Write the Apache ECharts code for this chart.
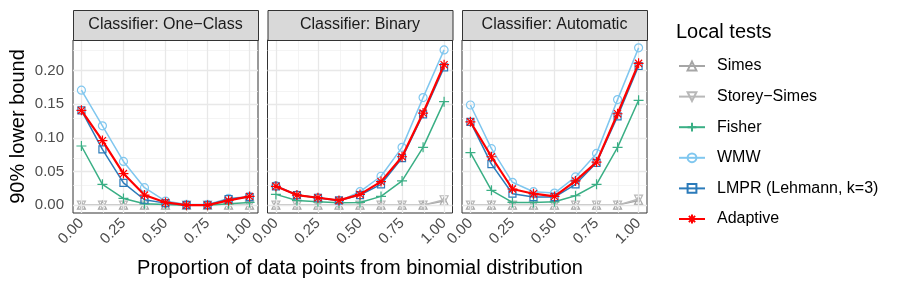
<!DOCTYPE html>
<html><head><meta charset="utf-8">
<script src="https://cdn.jsdelivr.net/npm/echarts@6/dist/echarts.min.js"></script>
<style>html,body{margin:0;padding:0;background:#fff}#c{width:897px;height:288px}</style>
</head><body><div id="c"></div>
<script>
// ---------------- data ----------------
const xValues = [0, 0.125, 0.25, 0.375, 0.5, 0.625, 0.75, 0.875, 1];
const panelTitles = ['Classifier: One\u2212Class', 'Classifier: Binary', 'Classifier: Automatic'];
const methodNames = ['Simes', 'Storey\u2212Simes', 'Fisher', 'WMW', 'LMPR (Lehmann, k=3)', 'Adaptive'];
const xTicks = [0, 0.25, 0.5, 0.75, 1];
const xMinorTicks = [0.125, 0.375, 0.625, 0.875];
const yTicks = [0, 0.05, 0.10, 0.15, 0.20];
const yMinorTicks = [0.025, 0.075, 0.125, 0.175, 0.225];

// One-Class
const simesOneClass    = [0, 0, 0, 0, 0, 0, 0, 0, 0];
const storeyOneClass   = [0, 0, 0, 0, 0, 0, 0, 0, 0];
const fisherOneClass   = [0.088, 0.031, 0.010, 0.002, 0.001, 0, 0, 0.002, 0.004];
const wmwOneClass      = [0.171, 0.118, 0.065, 0.026, 0.006, 0.001, 0.001, 0.010, 0.013];
const lmprOneClass     = [0.141, 0.083, 0.033, 0.008, 0.003, 0, 0, 0.009, 0.012];
const adaptiveOneClass = [0.141, 0.096, 0.047, 0.015, 0.004, 0, 0, 0.007, 0.013];
// Binary
const simesBinary    = [0, 0, 0, 0, 0, 0, 0, 0, 0.006];
const storeyBinary   = [0, 0, 0, 0, 0, 0, 0, 0, 0.008];
const fisherBinary   = [0.016, 0.007, 0.005, 0.0035, 0.004, 0.013, 0.036, 0.086, 0.154];
const wmwBinary      = [0.029, 0.015, 0.011, 0.006, 0.020, 0.043, 0.086, 0.160, 0.231];
const lmprBinary     = [0.028, 0.015, 0.011, 0.007, 0.015, 0.031, 0.070, 0.135, 0.205];
const adaptiveBinary = [0.028, 0.015, 0.011, 0.007, 0.016, 0.035, 0.072, 0.137, 0.209];
// Automatic
const simesAutomatic    = [0, 0, 0, 0, 0, 0, 0, 0, 0.007];
const storeyAutomatic   = [0, 0, 0, 0, 0, 0, 0, 0, 0.009];
const fisherAutomatic   = [0.078, 0.022, 0.004, 0.004, 0.005, 0.014, 0.031, 0.086, 0.156];
const wmwAutomatic      = [0.149, 0.084, 0.034, 0.020, 0.018, 0.042, 0.077, 0.157, 0.234];
const lmprAutomatic     = [0.124, 0.061, 0.017, 0.012, 0.012, 0.031, 0.063, 0.132, 0.207];
const adaptiveAutomatic = [0.124, 0.072, 0.024, 0.017, 0.013, 0.036, 0.064, 0.136, 0.211];

const panelData = [
  [simesOneClass, storeyOneClass, fisherOneClass, wmwOneClass, lmprOneClass, adaptiveOneClass],
  [simesBinary, storeyBinary, fisherBinary, wmwBinary, lmprBinary, adaptiveBinary],
  [simesAutomatic, storeyAutomatic, fisherAutomatic, wmwAutomatic, lmprAutomatic, adaptiveAutomatic]
];

// ---------------- styles / layout ----------------
const FONT = 'Liberation Sans, Arial, Helvetica, sans-serif';
const gridLefts = [73, 267.5, 462];
const gridWidth = 185, gridTop = 40, gridHeight = 173;

const PLUS = 'path://M5,0 L5,10 M0,5 L10,5';
const STAR = 'path://M5,0 L5,10 M0,5 L10,5 M1.46,1.46 L8.54,8.54 M1.46,8.54 L8.54,1.46';
const methodStyles = [
  {color: '#a6a6a6', symbol: 'triangle', size: 8, rotate: 0, width: 1.5},
  {color: '#b8b8b8', symbol: 'triangle', size: 8, rotate: 180, width: 1.5},
  {color: '#3aaf85', symbol: PLUS, size: 10, rotate: 0, width: 1.5},
  {color: '#80c7ef', symbol: 'circle', size: 8, rotate: 0, width: 1.5},
  {color: '#2b7bba', symbol: 'rect', size: 7, rotate: 0, width: 1.5},
  {color: '#ff0000', symbol: STAR, size: 10, rotate: 0, width: 2.2}
];

// y range shared (ggplot 5% expansion)
const allVals = panelData.flat(2);
const yLo = Math.min(...allVals), yHi = Math.max(...allVals);
const yPad = (yHi - yLo) * 0.05;
const yMin = yLo - yPad, yMax = yHi + yPad;
const xPad = (xValues[xValues.length - 1] - xValues[0]) * 0.05;
const xMin = xValues[0] - xPad, xMax = xValues[xValues.length - 1] + xPad;

const grids = [], xAxes = [], yAxes = [], series = [], graphics = [];
panelTitles.forEach((title, p) => {
  grids.push({left: gridLefts[p], top: gridTop, width: gridWidth, height: gridHeight,
    show: true, borderColor: '#333333', borderWidth: 1, backgroundColor: '#ffffff', containLabel: false});
  xAxes.push({type: 'value', gridIndex: p, min: xMin, max: xMax,
    axisLine: {show: false},
    axisTick: {show: true, length: 5, lineStyle: {color: '#333333', width: 1}, customValues: xTicks},
    axisLabel: {show: true, rotate: 45, margin: 8, customValues: xTicks, color: '#4d4d4d', fontSize: 15,
      fontFamily: FONT, formatter: v => v.toFixed(2)},
    splitLine: {show: false}, minorSplitLine: {show: false}});
  yAxes.push({type: 'value', gridIndex: p, min: yMin, max: yMax,
    axisLine: {show: false},
    axisTick: {show: p === 0, length: 5, lineStyle: {color: '#333333', width: 1}, customValues: yTicks},
    axisLabel: {show: p === 0, margin: 9, customValues: yTicks, color: '#4d4d4d', fontSize: 15,
      fontFamily: FONT, formatter: v => v.toFixed(2)},
    splitLine: {show: false}});
  // grid lines (invisible anchor point so the markLine renders)
  series.push({type: 'line', name: '_grid' + p, xAxisIndex: p, yAxisIndex: p,
    data: [[xValues[0], yTicks[0]]], symbol: 'none', lineStyle: {opacity: 0}, silent: true, z: 1,
    animation: false,
    markLine: {silent: true, symbol: ['none', 'none'], animation: false, label: {show: false},
      emphasis: {disabled: true},
      data: [
        ...xMinorTicks.map(v => ({xAxis: v, lineStyle: {color: '#efefef', width: 0.7, type: 'solid'}})),
        ...yMinorTicks.map(v => ({yAxis: v, lineStyle: {color: '#efefef', width: 0.7, type: 'solid'}})),
        ...xTicks.map(v => ({xAxis: v, lineStyle: {color: '#e8e8e8', width: 1.3, type: 'solid'}})),
        ...yTicks.map(v => ({yAxis: v, lineStyle: {color: '#e8e8e8', width: 1.3, type: 'solid'}}))
      ]}});
  methodNames.forEach((name, m) => {
    const st = methodStyles[m];
    series.push({type: 'line', name: name, xAxisIndex: p, yAxisIndex: p, z: 3 + m,
      data: xValues.map((x, i) => [x, panelData[p][m][i]]),
      symbol: st.symbol, symbolSize: st.size, symbolRotate: st.rotate, showAllSymbol: true,
      color: st.color,
      lineStyle: {color: st.color, width: st.width},
      itemStyle: {color: 'rgba(255,255,255,0)', borderColor: st.color, borderWidth: 1.2},
      emphasis: {disabled: true}, animation: false});
  });
  // strip
  graphics.push({type: 'rect', left: gridLefts[p], top: 10, z: 10,
    shape: {width: gridWidth, height: 30},
    style: {fill: '#d9d9d9', stroke: '#333333', lineWidth: 1}});
  graphics.push({type: 'text', z: 11, x: gridLefts[p] + gridWidth / 2, y: 25,
    style: {text: title, fill: '#1a1a1a', font: '16px ' + FONT, align: 'center', verticalAlign: 'middle'}});
});

// axis titles & legend title
graphics.push({type: 'text', x: gridLefts[0] + (gridLefts[2] + gridWidth - gridLefts[0]) / 2, y: 268,
  style: {text: 'Proportion of data points from binomial distribution', fill: '#000', font: '20px ' + FONT,
    align: 'center', verticalAlign: 'middle'}});
graphics.push({type: 'text', x: 18, y: gridTop + gridHeight / 2, rotation: Math.PI / 2,
  style: {text: '90% lower bound', fill: '#000', font: '20px ' + FONT, align: 'center', verticalAlign: 'middle'}});
graphics.push({type: 'text', x: 676, y: 32,
  style: {text: 'Local tests', fill: '#000', font: '20px ' + FONT, align: 'left', verticalAlign: 'middle'}});

const chart = echarts.init(document.getElementById('c'), null, {renderer: 'canvas'});
chart.setOption({
  animation: false,
  backgroundColor: '#ffffff',
  grid: grids, xAxis: xAxes, yAxis: yAxes, series: series,
  legend: {data: methodNames, orient: 'vertical', left: 678, top: 58, padding: 0,
    itemWidth: 26, itemHeight: 11, itemGap: 14.6, selectedMode: false,
    textStyle: {fontSize: 16, fontFamily: FONT, color: '#000', lineHeight: 14, padding: [0, 0, 0, 7]}},
  graphic: graphics
});
</script></body></html>
